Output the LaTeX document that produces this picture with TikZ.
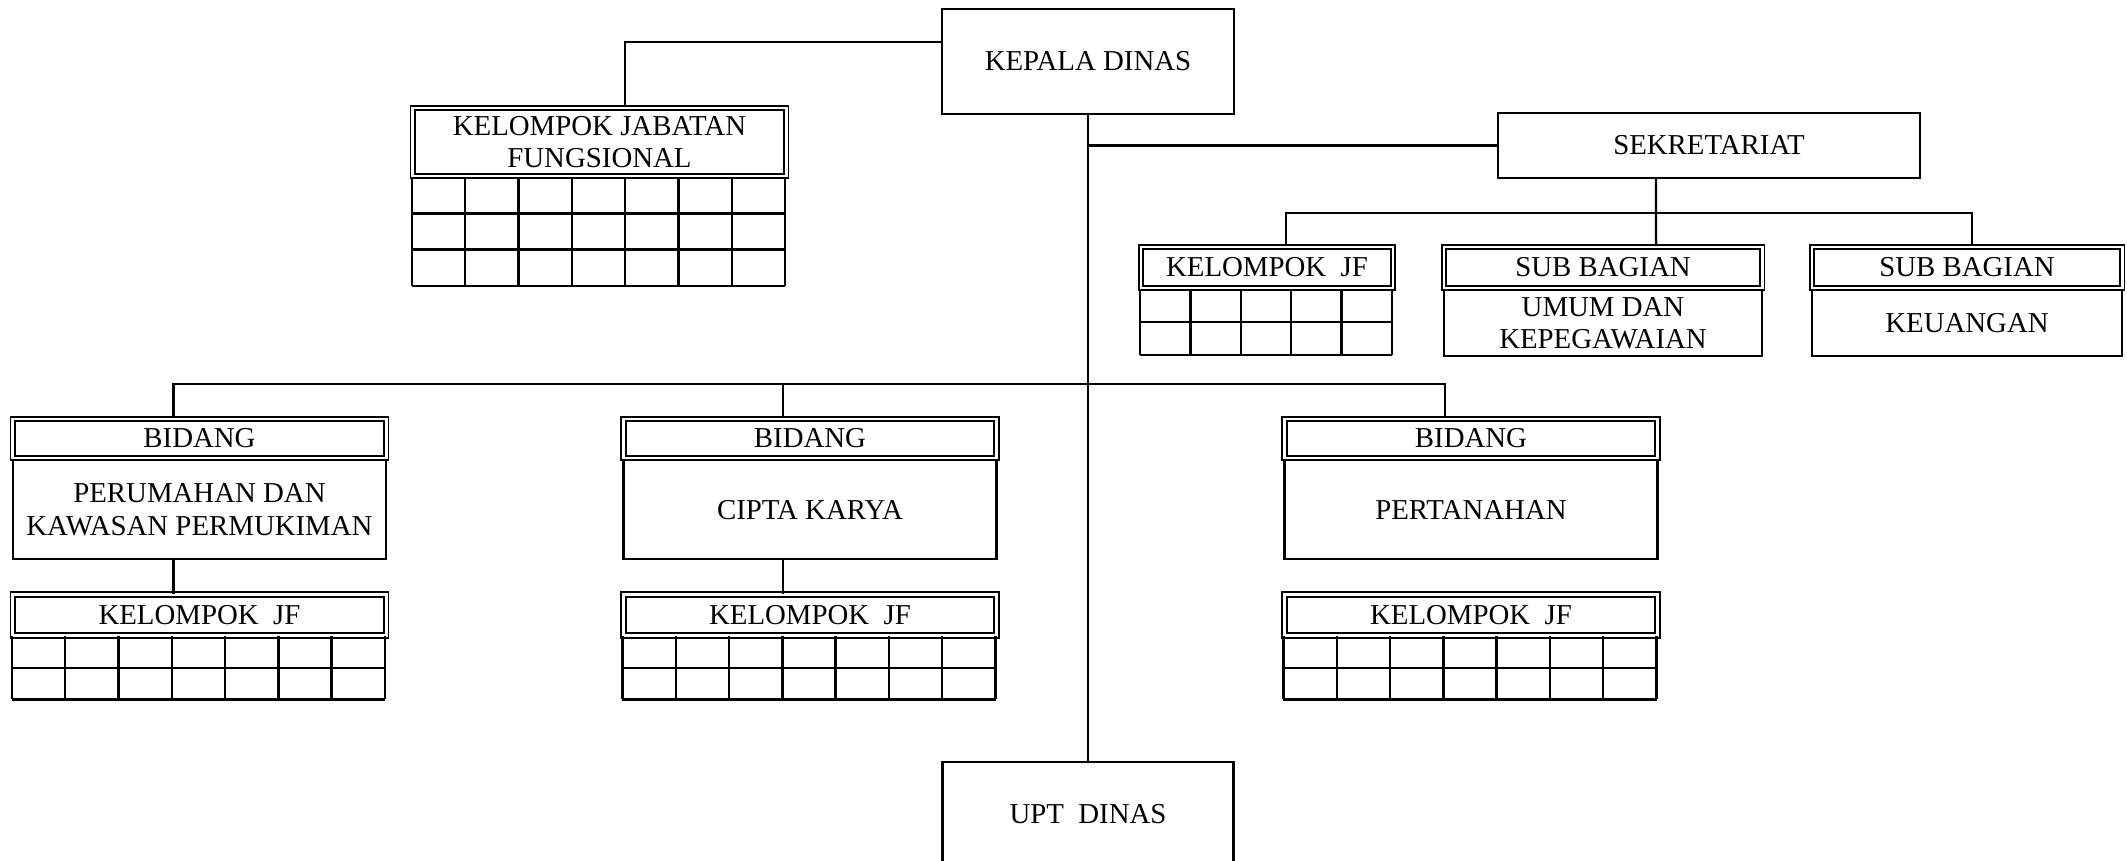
\documentclass[tikz,border=0pt]{standalone}
\usepackage{fontspec}
\setmainfont{Liberation Serif}
\usetikzlibrary{positioning}

% node, columns, rows, cell width, cell height
\newcommand{\jfgrid}[5]{%
  \begin{scope}[shift={(#1.south west)}]
    \foreach \k in {1,...,#2} \draw (\k*#4,0) -- (\k*#4,#3*#5);
    \foreach \b in {1,...,#3} \draw (0,\b*#5) -- (#2*#4,\b*#5);
    \draw (0,0) -- (0,#3*#5);
  \end{scope}}

\begin{document}
\begin{tikzpicture}[x=0.01cm,y=-0.01cm,line width=0.7pt,
    font=\fontsize{8.2}{9.3}\selectfont]
  \tikzstyle{kotak}=[draw,align=center,inner sep=0pt]
  \tikzstyle{judul}=[kotak,double,double distance=0.8pt,line width=0.55pt]

  \useasboundingbox (0,0) rectangle (2127,861);

  % pimpinan
  \node[kotak,minimum width=2.92cm,minimum height=1.05cm] (kepala) at (1088,61.5) {KEPALA DINAS};
  \node[kotak,minimum width=2.91cm,minimum height=1.04cm] (upt) at (1088,814) {UPT~~DINAS};

  \node[judul,minimum width=3.73cm,minimum height=0.68cm] (jabfung) at (599.5,142) {KELOMPOK JABATAN\\FUNGSIONAL};
  \jfgrid{jabfung}{7}{3}{53.3}{36.3}

  % sekretariat
  \node[kotak,minimum width=4.22cm,minimum height=0.65cm] (sekre) at (1709,145.5) {SEKRETARIAT};
  \node[judul,minimum width=2.52cm,minimum height=0.41cm] (sekjf) at (1267,267.5) {KELOMPOK~~JF};
  \jfgrid{sekjf}{5}{2}{50.4}{33}
  \node[judul,minimum width=3.18cm,minimum height=0.41cm] (umum) at (1603,267.5) {SUB BAGIAN};
  \node[kotak,minimum width=3.18cm,minimum height=0.66cm,below=0pt of umum] (umumisi) {UMUM DAN\\KEPEGAWAIAN};
  \node[judul,minimum width=3.10cm,minimum height=0.41cm] (keu) at (1967,267.5) {SUB BAGIAN};
  \node[kotak,minimum width=3.10cm,minimum height=0.66cm,below=0pt of keu] (keuisi) {KEUANGAN};

  % bidang
  \node[judul,minimum width=3.73cm,minimum height=0.39cm] (bid1) at (199.5,438.5) {BIDANG};
  \node[kotak,minimum width=3.73cm,minimum height=0.99cm,below=0pt of bid1] (bid1isi) {PERUMAHAN DAN\\KAWASAN PERMUKIMAN};
  \node[judul,minimum width=3.73cm,minimum height=0.41cm,below=0.33cm of bid1isi] (jf1) {KELOMPOK~~JF};
  \jfgrid{jf1}{7}{2}{53.3}{31.5}

  \node[judul,minimum width=3.73cm,minimum height=0.39cm] (bid2) at (810,438.5) {BIDANG};
  \node[kotak,minimum width=3.73cm,minimum height=0.99cm,below=0pt of bid2] (bid2isi) {CIPTA KARYA};
  \node[judul,minimum width=3.73cm,minimum height=0.41cm,below=0.33cm of bid2isi] (jf2) {KELOMPOK~~JF};
  \jfgrid{jf2}{7}{2}{53.3}{31.5}

  \node[judul,minimum width=3.73cm,minimum height=0.39cm] (bid3) at (1471,438.5) {BIDANG};
  \node[kotak,minimum width=3.73cm,minimum height=0.99cm,below=0pt of bid3] (bid3isi) {PERTANAHAN};
  \node[judul,minimum width=3.73cm,minimum height=0.41cm,below=0.33cm of bid3isi] (jf3) {KELOMPOK~~JF};
  \jfgrid{jf3}{7}{2}{53.3}{31.5}

  % garis
  \coordinate (sekbus) at (1656,213);
  \coordinate (bidbus) at (1088,384);
  \draw (kepala.south) -- (upt.north);
  \draw ([yshift=0.195cm]kepala.west) -| ([xshift=0.255cm]jabfung.north);
  \draw (kepala.south |- sekre.west) -- (sekre.west);
  \draw ([xshift=-0.53cm]sekre.south) -- (umum.north -| sekbus);
  \draw ([xshift=0.19cm]sekjf.north) |- (sekbus) -| ([xshift=0.05cm]keu.north);
  \draw ([xshift=-0.26cm]bid1.north) |- (bidbus) -| ([xshift=-0.26cm]bid3.north);
  \draw ([xshift=-0.27cm]bid2.north) -- ([xshift=-0.27cm]bid2.north |- bidbus);
  \draw ([xshift=-0.26cm]bid1isi.south) -- ([xshift=-0.26cm]jf1.north);
  \draw ([xshift=-0.27cm]bid2isi.south) -- ([xshift=-0.27cm]jf2.north);
\end{tikzpicture}
\end{document}
